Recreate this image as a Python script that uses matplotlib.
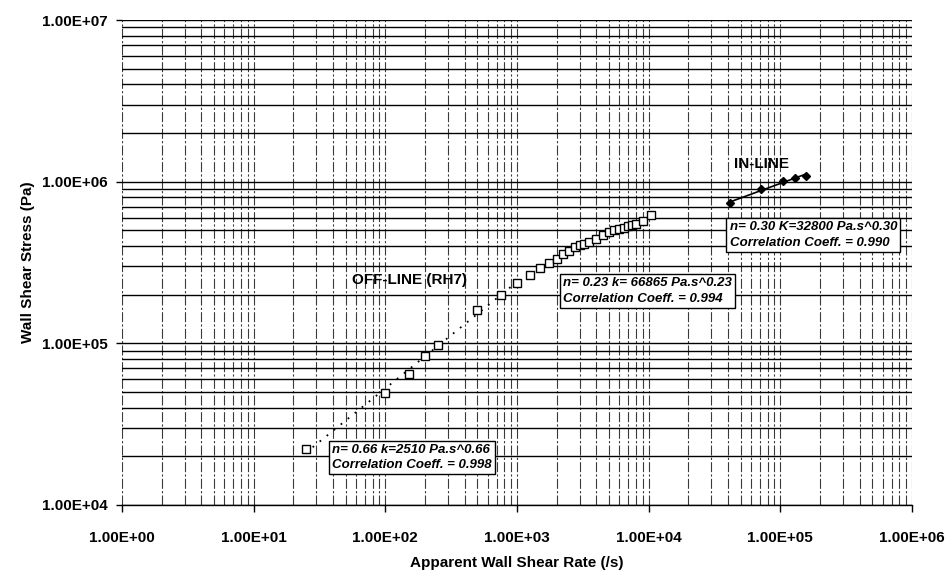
import numpy as np
import matplotlib
matplotlib.use("Agg")
import matplotlib.pyplot as plt
from matplotlib.ticker import LogLocator, FuncFormatter, NullFormatter

# Off-line capillary rheometer (RH7) data
offline_rate = [25, 100, 150, 200, 250, 500, 750, 1000, 1250, 1500, 1750, 2000,
                2250, 2500, 2750, 3000, 3250, 3500, 4000, 4500, 5000, 5500, 6000,
                6500, 7000, 7500, 8000, 9000, 10500]
offline_stress = [2.22e4, 4.9e4, 6.5e4, 8.4e4, 9.8e4, 1.6e5, 2.0e5, 2.37e5, 2.65e5,
                  2.92e5, 3.15e5, 3.33e5, 3.55e5, 3.75e5, 3.95e5, 4.04e5, 4.13e5,
                  4.23e5, 4.4e5, 4.7e5, 4.85e5, 5.0e5, 5.1e5, 5.2e5, 5.3e5, 5.4e5,
                  5.5e5, 5.7e5, 6.25e5]

# In-line rheometer data
inline_rate = [41800, 71800, 104000, 130000, 157000]
inline_stress = [7.38e5, 8.98e5, 1.01e6, 1.055e6, 1.09e6]

x_ticks = [1e0, 1e1, 1e2, 1e3, 1e4, 1e5, 1e6]
y_ticks = [1e4, 1e5, 1e6, 1e7]

W, H = 946, 570
plt.rcParams['font.family'] = ['Liberation Sans', 'DejaVu Sans']
plt.rcParams['font.weight'] = 'bold'

fig = plt.figure(figsize=(W / 100, H / 100), dpi=100)
L, R, T, B = 122, 912, 20, 505
ax = fig.add_axes([L / W, 1 - B / H, (R - L) / W, (B - T) / H])

ax.set_xscale('log')
ax.set_yscale('log')
ax.set_xlim(x_ticks[0], x_ticks[-1])
ax.set_ylim(y_ticks[0], y_ticks[-1])

# grid: solid horizontal lines, broken vertical lines
ax.yaxis.set_major_locator(LogLocator(base=10, numticks=10))
ax.yaxis.set_minor_locator(LogLocator(base=10, subs=np.arange(2, 10), numticks=20))
ax.xaxis.set_major_locator(LogLocator(base=10, numticks=10))
ax.xaxis.set_minor_locator(LogLocator(base=10, subs=np.arange(2, 10), numticks=20))
ax.grid(True, axis='y', which='both', color='black', lw=1.0, ls='-')
ax.grid(True, axis='x', which='both', color='#3a3a3a', lw=0.8, ls=(0, (9, 2, 2, 2)))
ax.set_axisbelow(True)

fmt = FuncFormatter(lambda v, p: f"{v:.2E}")
ax.xaxis.set_major_formatter(fmt)
ax.yaxis.set_major_formatter(fmt)
ax.xaxis.set_minor_formatter(NullFormatter())
ax.yaxis.set_minor_formatter(NullFormatter())
ax.set_xticks(x_ticks)
ax.set_yticks(y_ticks)

for s in ['top', 'right', 'left']:
    ax.spines[s].set_visible(False)
ax.spines['bottom'].set_linewidth(1.0)
ax.tick_params(axis='x', which='major', length=5, width=1, pad=14, labelsize=11)
ax.tick_params(axis='y', which='major', length=4, width=1, pad=6, labelsize=11)
ax.tick_params(which='minor', length=0)

ax.set_xlabel('Apparent Wall Shear Rate (/s)', fontsize=11, fontweight='bold', labelpad=8)
ax.set_ylabel('Wall Shear Stress (Pa)', fontsize=11, fontweight='bold', labelpad=5)

# power-law trend line over the low-rate off-line points
xr = np.array(offline_rate, dtype=float)
yr = np.array(offline_stress, dtype=float)
low = xr <= 1000
c = np.polyfit(np.log10(xr[low]), np.log10(yr[low]), 1)
xf = np.logspace(np.log10(xr[low][0]) + 0.05, np.log10(xr[low][-1]), 60)
ax.plot(xf, 10 ** np.polyval(c, np.log10(xf)), ls=(0, (1, 4)), color='black', lw=1.3)

# in-line trend line
xi = np.array(inline_rate, dtype=float)
yi = np.array(inline_stress, dtype=float)
ci = np.polyfit(np.log10(xi), np.log10(yi), 1)
xfi = np.logspace(np.log10(xi[0]), np.log10(xi[-1]), 20)
ax.plot(xfi, 10 ** np.polyval(ci, np.log10(xfi)), color='black', lw=1.2)

ax.plot(offline_rate, offline_stress, ls='none', marker='s', ms=5.5,
        mfc='white', mec='black', mew=1.0, zorder=5)
ax.plot(inline_rate, inline_stress, ls='none', marker='D', ms=4.5,
        mfc='black', mec='black', zorder=5)

def px(x, y):
    return x / W, 1 - y / H

fig.text(*px(352, 280), 'OFF-LINE (RH7)', fontsize=11, fontweight='bold',
         ha='left', va='center')
fig.text(*px(734, 164), 'IN-LINE', fontsize=11, fontweight='bold',
         ha='left', va='center')

box = dict(boxstyle='square,pad=0.25', fc='white', ec='black', lw=1.0)
fs = 9.5
fig.text(*px(332, 457.5), 'n= 0.66 k=2510 Pa.s^0.66\nCorrelation Coeff. = 0.998',
         fontsize=fs, fontstyle='italic', fontweight='bold', ha='left', va='center',
         linespacing=1.35, bbox=box, zorder=10)
fig.text(*px(563, 291), 'n= 0.23 k= 66865 Pa.s^0.23\nCorrelation Coeff. = 0.994',
         fontsize=fs, fontstyle='italic', fontweight='bold', ha='left', va='center',
         linespacing=1.35, bbox=box, zorder=10)
fig.text(*px(729.5, 235), 'n= 0.30 K=32800 Pa.s^0.30\nCorrelation Coeff. = 0.990',
         fontsize=fs, fontstyle='italic', fontweight='bold', ha='left', va='center',
         linespacing=1.35, bbox=box, zorder=10)

fig.savefig('out.png', dpi=100)
